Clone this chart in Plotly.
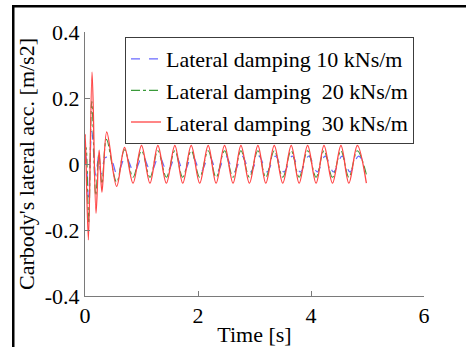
import plotly.graph_objects as go

# Extremum points (time [s], lateral acceleration [m/s2]) of each response
t_10 = [0.0, 0.02, 0.06, 0.12, 0.19, 0.24, 0.29, 0.36, 0.46, 0.57,
        0.72, 0.87, 1.02, 1.17, 1.31, 1.46, 1.61, 1.75, 1.90, 2.05,
        2.20, 2.34, 2.49, 2.64, 2.78, 2.93, 3.08, 3.22, 3.37, 3.52,
        3.67, 3.81, 3.96, 4.11, 4.25, 4.40, 4.55, 4.69, 4.84, 4.97]
a_10 = [0.03, 0.02, -0.10, 0.098, -0.035, 0.02, -0.03, 0.02, 0.015, -0.032,
        0.022, -0.024, 0.024, -0.024, 0.024, -0.024, 0.024, -0.024, 0.024, -0.024,
        0.024, -0.024, 0.024, -0.024, 0.024, -0.024, 0.024, -0.024, 0.024, -0.024,
        0.024, -0.024, 0.024, -0.024, 0.024, -0.024, 0.024, -0.024, 0.024, -0.008]

t_20 = [0.0, 0.02, 0.065, 0.12, 0.19, 0.245, 0.30, 0.38, 0.56,
        0.70, 0.85, 1.00, 1.15, 1.29, 1.44, 1.59, 1.73, 1.88, 2.03,
        2.18, 2.32, 2.47, 2.62, 2.76, 2.91, 3.06, 3.20, 3.35, 3.50,
        3.65, 3.79, 3.94, 4.09, 4.23, 4.38, 4.53, 4.67, 4.82, 4.99]
a_20 = [0.03, 0.05, -0.18, 0.19, -0.095, 0.03, -0.06, 0.075, -0.055,
        0.043, -0.04, 0.04, -0.04, 0.04, -0.04, 0.04, -0.04, 0.04, -0.04,
        0.04, -0.04, 0.04, -0.04, 0.04, -0.04, 0.04, -0.04, 0.04, -0.04,
        0.04, -0.04, 0.04, -0.04, 0.04, -0.04, 0.04, -0.04, 0.04, -0.038]

t_30 = [0.0, 0.005, 0.06, 0.125, 0.195, 0.25, 0.30, 0.385, 0.56,
        0.70, 0.85, 1.00, 1.15, 1.29, 1.44, 1.59, 1.73, 1.88, 2.03,
        2.18, 2.32, 2.47, 2.62, 2.76, 2.91, 3.06, 3.20, 3.35, 3.50,
        3.65, 3.79, 3.94, 4.09, 4.23, 4.38, 4.53, 4.67, 4.82, 4.98]
a_30 = [0.0, 0.09, -0.23, 0.278, -0.149, 0.042, -0.085, 0.097, -0.068,
        0.05, -0.058, 0.056, -0.058, 0.056, -0.058, 0.056, -0.058, 0.056, -0.058,
        0.056, -0.058, 0.056, -0.058, 0.056, -0.058, 0.056, -0.058, 0.056, -0.058,
        0.056, -0.058, 0.056, -0.058, 0.056, -0.058, 0.056, -0.058, 0.056, -0.058]

names = ["Lateral damping 10 kNs/m",
         "Lateral damping\u00a0 20 kNs/m",
         "Lateral damping\u00a0 30 kNs/m"]

x_ticks = [0, 2, 4, 6]
y_ticks = [-0.4, -0.2, 0, 0.2, 0.4]
y_tick_text = ["-0.4", "-0.2", "0", "0.2", "0.4"]

W, H = 466, 347
FONT = "'Liberation Serif', 'Times New Roman', 'DejaVu Serif', serif"


def fx(p):
    """Horizontal pixel -> paper fraction (paper spans the whole figure)."""
    return p / W


def fy(p):
    """Vertical pixel from the top -> paper fraction."""
    return (H - p) / H


fig = go.Figure()
fig.add_trace(go.Scatter(x=t_10, y=a_10, mode="lines", name=names[0],
                         line=dict(color="#6a6aff", width=1.2, dash="dash",
                                   shape="spline", smoothing=1)))
fig.add_trace(go.Scatter(x=t_20, y=a_20, mode="lines", name=names[1],
                         line=dict(color="#3a9a3a", width=1.1, dash="dashdot",
                                   shape="spline", smoothing=1)))
fig.add_trace(go.Scatter(x=t_30, y=a_30, mode="lines", name=names[2],
                         line=dict(color="#ff4545", width=1.3,
                                   shape="spline", smoothing=1)))

axis_common = dict(showline=True, linecolor="#7a7a7a", linewidth=1,
                   ticks="inside", ticklen=5, tickcolor="#7a7a7a",
                   showgrid=False, zeroline=False, automargin=False,
                   tickfont=dict(family=FONT, size=22, color="black"))

fig.update_xaxes(range=[0, 6], tickvals=x_ticks, ticktext=[str(v) for v in x_ticks],
                 domain=[fx(85), fx(424)],
                 title=dict(text="Time [s]", standoff=0,
                            font=dict(family=FONT, size=22, color="black")),
                 **axis_common)
fig.update_yaxes(range=[-0.4, 0.4], tickvals=y_ticks, ticktext=y_tick_text,
                 domain=[fy(296), fy(32)],
                 title=dict(text="Carbody's lateral acc. [m/s2]", standoff=4,
                            font=dict(family=FONT, size=22, color="black")),
                 **axis_common)

# Frame around the figure: thick top and left edges
frame = [
    dict(type="rect", xref="paper", yref="paper",
         x0=fx(12), x1=1, y0=fy(7.5), y1=fy(5),
         fillcolor="black", line=dict(width=0)),
    dict(type="rect", xref="paper", yref="paper",
         x0=fx(12), x1=fx(14.5), y0=0, y1=fy(5),
         fillcolor="black", line=dict(width=0)),
]

fig.update_layout(
    width=W, height=H,
    margin=dict(l=0, r=0, t=0, b=0, autoexpand=False),
    paper_bgcolor="white", plot_bgcolor="white",
    font=dict(family=FONT, color="black"),
    showlegend=True,
    dragmode=False,
    legend=dict(x=fx(125), y=fy(37), xanchor="left", yanchor="top",
                bgcolor="white", bordercolor="#3c3c3c", borderwidth=1,
                font=dict(family=FONT, size=22, color="black"),
                tracegroupgap=0),
    shapes=frame,
)

fig.write_html("out.html", config={"displayModeBar": False, "staticPlot": True})
